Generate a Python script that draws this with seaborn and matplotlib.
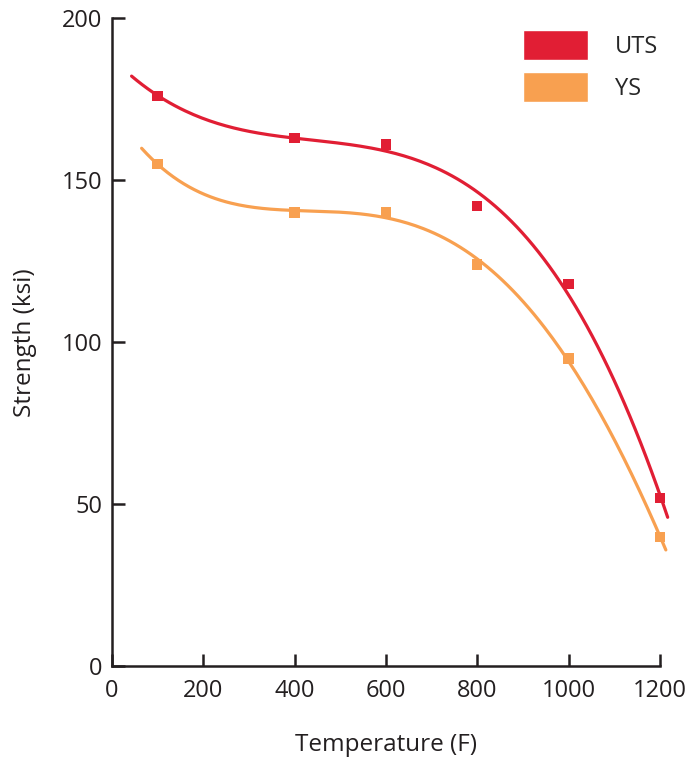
import numpy as np
import matplotlib
matplotlib.use("Agg")
import matplotlib.pyplot as plt
from matplotlib.patches import Patch
import seaborn as sns
import pandas as pd

temps = [100, 400, 600, 800, 1000, 1200]
uts = [176, 163, 161, 142, 118, 52]
ys = [155, 140, 140, 124, 95, 40]

red = '#E11E34'
orange = '#F8A050'
ink = '#231f20'

df = pd.DataFrame({'Temperature': temps * 2,
                   'Strength': uts + ys,
                   'kind': ['UTS'] * len(temps) + ['YS'] * len(temps)})

# smooth trend lines (polynomial fit through the points)
fit_span = {'UTS': (43, 1217), 'YS': (65, 1213)}
fit_deg = {'UTS': 3, 'YS': 4}
fits = []
for kind, vals in [('UTS', uts), ('YS', ys)]:
    c = np.polyfit(temps, vals, fit_deg[kind])
    xx = np.linspace(*fit_span[kind], 200)
    fits.append(pd.DataFrame({'Temperature': xx, 'Strength': np.polyval(c, xx), 'kind': kind}))
fit_df = pd.concat(fits)

sns.set_style('white')
plt.rcParams['font.family'] = ['Open Sans', 'DejaVu Sans']

fig = plt.figure(figsize=(6.91, 7.58), dpi=100)
ax = fig.add_axes([0.162, 0.121, 0.793, 0.855])
pal = {'UTS': red, 'YS': orange}
sns.lineplot(data=fit_df, x='Temperature', y='Strength', hue='kind', palette=pal,
             lw=2.3, legend=False, ax=ax)
sns.scatterplot(data=df, x='Temperature', y='Strength', hue='kind', palette=pal,
                marker='s', s=55, linewidth=0, legend=False, ax=ax, zorder=3)
for art in ax.lines + ax.collections:
    art.set_clip_on(False)

ax.set_xlim(0, 1200)
ax.set_ylim(0, 200)
ax.set_xticks([0, 200, 400, 600, 800, 1000, 1200])
ax.set_yticks([0, 50, 100, 150, 200])
ax.tick_params(bottom=True, left=True, direction='in', length=9, width=1.8,
               labelsize=17, colors=ink)
ax.tick_params(axis='x', pad=9)
ax.tick_params(axis='y', pad=7)
for s in ['top', 'right']:
    ax.spines[s].set_visible(False)
for s in ['left', 'bottom']:
    ax.spines[s].set_color(ink)
    ax.spines[s].set_linewidth(1.8)
ax.set_xlabel('Temperature (F)', fontsize=17.5, color=ink, labelpad=22)
ax.set_ylabel('Strength (ksi)', fontsize=17.5, color=ink, labelpad=18)

handles = [Patch(facecolor=red, label='UTS'), Patch(facecolor=orange, label='YS')]
ax.legend(handles=handles, loc='upper left', bbox_to_anchor=(523 / 691, 1 - 30 / 758),
          bbox_transform=fig.transFigure, frameon=False, fontsize=17,
          handlelength=2.75, handleheight=1.6, labelspacing=0.5,
          handletextpad=1.15, borderaxespad=0, borderpad=0)

fig.savefig('out.png', dpi=100)
